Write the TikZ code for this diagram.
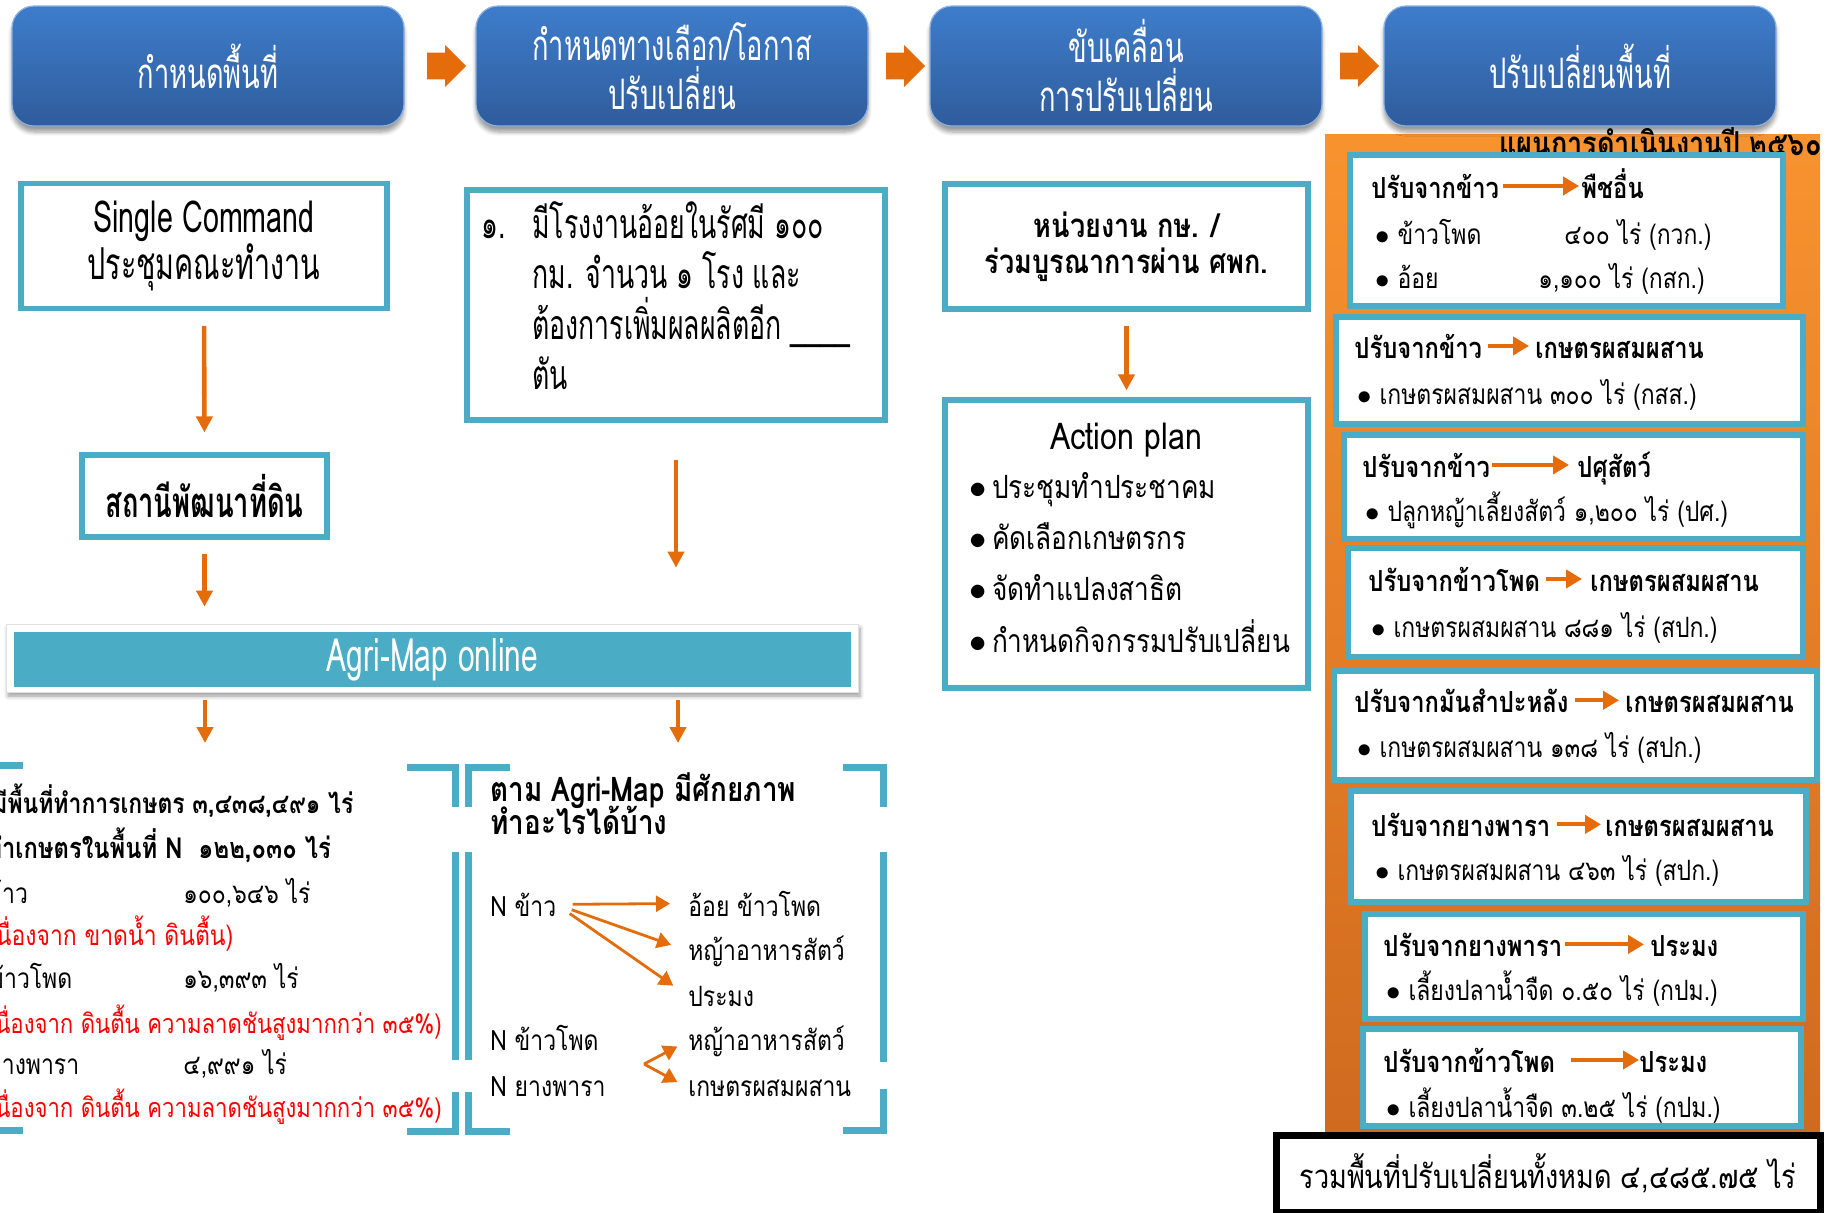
\documentclass[tikz,border=0pt]{standalone}
\usepackage{fontspec}
\setmainfont{Loma}[Script=Thai,FakeStretch=0.82]
\newfontfamily\condfont{Loma}[Script=Thai,FakeStretch=0.65]
\usetikzlibrary{%
  arrows.meta,%
  shapes.arrows,% wg. single arrow
  shadows.blur,%
  calc,%
  positioning% wg. " of "
}
\definecolor{hdrtop}{HTML}{3E7DCB}
\definecolor{hdrbot}{HTML}{2F5C9C}
\definecolor{tealb}{HTML}{4BACC6}
\definecolor{orng}{HTML}{E46C0A}
\definecolor{pnltop}{HTML}{F7932F}
\definecolor{pnlbot}{HTML}{D06A1F}
\definecolor{redtxt}{HTML}{FF0000}

\begin{document}
\begin{tikzpicture}
  [
  x=0.5pt, y=-0.5pt, font=\fontsize{14}{17}\selectfont,
  >={Triangle[length=8pt,width=8pt]},
  hdr/.style={rectangle, rounded corners=11pt, minimum width=196pt, minimum height=60pt,
    top color=hdrtop, bottom color=hdrbot, draw=hdrtop!60!white, line width=0.6pt,
    blur shadow={shadow xshift=0pt, shadow yshift=-3pt, shadow blur steps=6},
    text=white, align=center, font=\condfont\fontsize{21}{24.5}\selectfont},
  blockarr/.style={single arrow, fill=orng, inner xsep=0pt, inner ysep=6.5pt,
    minimum height=19.5pt, single arrow head extend=3.8pt},
  tealbox/.style={rectangle, draw=tealb, line width=2.6pt, fill=white, inner sep=0pt},
  flow/.style={->, draw=orng, line width=2.3pt},
  fan/.style={-{Triangle[length=7pt,width=8pt]}, draw=orng, line width=1.4pt},
  conv/.style={-{Triangle[length=8pt,width=9pt]}, draw=orng, line width=2pt},
  brk/.style={draw=tealb, line width=3.5pt, line join=miter},
  ttl/.style={anchor=base west, inner sep=0pt, font=\bfseries\fontsize{14.5}{17}\selectfont},
  itm/.style={anchor=base west, inner sep=0pt},
  cnd/.style={anchor=base west, inner sep=0pt, font=\condfont\fontsize{20.5}{24}\selectfont},
  ]
  \useasboundingbox (0,0) rectangle (1830,1212);

  % right panel background
  \shade[top color=pnltop, bottom color=pnlbot] (1325,134) rectangle (1820,1132);
  \node[anchor=base east, inner sep=0pt, font=\bfseries\fontsize{16.5}{19}\selectfont] (plantitle) at (1822,155) {แผนการดำเนินงานปี ๒๕๖๐};

  \node[hdr] (h1) at (208,66) {กำหนดพื้นที่};
  \node[hdr] (h2) at (672,66) {กำหนดทางเลือก/โอกาส\\ปรับเปลี่ยน};
  \node[hdr] (h3) at (1126,66) {ขับเคลื่อน\\การปรับเปลี่ยน};
  \node[hdr] (h4) at (1580,66) {ปรับเปลี่ยนพื้นที่};
  \node[blockarr] (a12) at ($(h1.east)!0.5!(h2.west)$) {};
  \node[blockarr] (a23) at ($(h2.east)!0.5!(h3.west)$) {};
  \node[blockarr] (a34) at ($(h3.east)!0.5!(h4.west)$) {};

  % column 1
  \node[tealbox, minimum width=183pt, minimum height=62.5pt, align=center,
    font=\condfont\fontsize{22}{19}\selectfont] (cmd) at (204,246) {Single Command\\ประชุมคณะทำงาน};
  \node[tealbox, minimum width=122.5pt, minimum height=41pt,
    font=\condfont\bfseries\fontsize{21}{24}\selectfont] (ldd) at (204.5,496) {สถานีพัฒนาที่ดิน};
  \draw[flow, shorten <=7.5pt, shorten >=10pt] (cmd.south) -- (ldd.north);

  \node[rectangle, fill=white, draw=black!12, minimum width=426pt, minimum height=34pt,
    blur shadow={shadow xshift=1pt, shadow yshift=-2pt, shadow blur steps=5}] (barbg) at (432,658) {};
  \node[rectangle, fill=tealb, minimum width=418.5pt, minimum height=25.5pt, text=white,
    font=\condfont\fontsize{23}{26}\selectfont] (bar) at (432.5,659.5) {Agri-Map online};
  \draw[flow, shorten <=7pt, shorten >=8.5pt] (ldd.south) -- (ldd.south |- barbg.north);

  % column 2
  \node[tealbox, minimum width=209pt, minimum height=115pt] (opp) at (676,305) {};
  \node[cnd] (opp0) at (481,238) {๑.};
  \node[cnd] (opp1) at (532,238) {มีโรงงานอ้อยในรัศมี ๑๐๐};
  \node[cnd] (opp2) at (532,288) {กม. จำนวน ๑ โรง และ};
  \node[cnd] (opp3) at (532,339) {ต้องการเพิ่มผลผลิตอีก \_\_\_\_};
  \node[cnd] (opp4) at (532,389) {ตัน};
  \draw[flow, shorten <=18.5pt, shorten >=28pt] (opp.south) -- (opp.south |- barbg.north);

  % column 3
  \node[tealbox, minimum width=181.5pt, minimum height=62.5pt, align=center,
    font=\bfseries\fontsize{16.5}{18}\selectfont] (unit) at (1126.5,246.5) {หน่วยงาน กษ. /\\ร่วมบูรณาการผ่าน ศพก.};
  \node[tealbox, minimum width=181.5pt, minimum height=144pt] (plan) at (1126.5,544) {};
  \draw[flow, shorten <=7pt, shorten >=3.5pt] (unit.south) -- (plan.north);
  \node[font=\fontsize{18.5}{21}\selectfont] (plan0) at (1126,440) {Action plan};
  \node[itm, font=\fontsize{16}{19}\selectfont] (plan1) at (969,498) {$\bullet$\,ประชุมทำประชาคม};
  \node[itm, font=\fontsize{16}{19}\selectfont] (plan2) at (969,549) {$\bullet$\,คัดเลือกเกษตรกร};
  \node[itm, font=\fontsize{16}{19}\selectfont] (plan3) at (969,600) {$\bullet$\,จัดทำแปลงสาธิต};
  \node[itm, font=\fontsize{16}{19}\selectfont] (plan4) at (969,652) {$\bullet$\,กำหนดกิจกรรมปรับเปลี่ยน};

  % lower panels
  \coordinate (lp) at (205,765);
  \coordinate (mp) at (678,765);
  \draw[flow, shorten <=4pt, shorten >=11pt] (barbg.south -| lp) -- (lp);
  \draw[flow, shorten <=4pt, shorten >=11pt] (barbg.south -| mp) -- (mp);

  \draw[brk] (0,765) -- (23,765);
  \draw[brk] (0,1130) -- (23,1130);
  \draw[brk] (407,767) -| (455,807);
  \draw[brk] (455,852) -- (455,1060);
  \draw[brk] (455,1092) |- (407,1131);
  \draw[brk] (510,767) -| (468,807);
  \draw[brk] (468,852) -- (468,1060);
  \draw[brk] (468,1092) |- (510,1131);
  \draw[brk] (843,767) -| (883,807);
  \draw[brk] (883,852) -- (883,1062);
  \draw[brk] (883,1089) |- (843,1130);

  \node[itm, font=\bfseries\fontsize{14}{17}\selectfont] (l1) at (-8,813) {มีพื้นที่ทำการเกษตร ๓,๔๓๘,๔๙๑ ไร่};
  \node[itm, font=\bfseries\fontsize{14.5}{17}\selectfont] (l2) at (-14,858) {ทำเกษตรในพื้นที่ N\ \ ๑๒๒,๐๓๐ ไร่};
  \node[itm] (l3) at (-14,903) {ข้าว};
  \node[itm] (l3n) at (183,903) {๑๐๐,๖๔๖ ไร่};
  \node[itm, text=redtxt] (l4) at (-20,945) {(เนื่องจาก ขาดน้ำ ดินตื้น)};
  \node[itm] (l5) at (-12,988) {ข้าวโพด};
  \node[itm] (l5n) at (183,988) {๑๖,๓๙๓ ไร่};
  \node[itm, text=redtxt, font=\fontsize{13.5}{16}\selectfont] (l6) at (-20,1033) {(เนื่องจาก ดินตื้น ความลาดชันสูงมากกว่า ๓๕\%)};
  \node[itm] (l7) at (-12,1074) {ยางพารา};
  \node[itm] (l7n) at (183,1074) {๔,๙๙๑ ไร่};
  \node[itm, text=redtxt, font=\fontsize{13.5}{16}\selectfont] (l8) at (-20,1117) {(เนื่องจาก ดินตื้น ความลาดชันสูงมากกว่า ๓๕\%)};

  \node[ttl, font=\bfseries\fontsize{17}{20}\selectfont] (mt1) at (490,801) {ตาม Agri-Map มีศักยภาพ};
  \node[ttl, font=\bfseries\fontsize{17}{20}\selectfont] (mt2) at (490,834) {ทำอะไรได้บ้าง};
  \node[itm] (nk) at (490,916) {N ข้าว};
  \node[itm] (t1) at (688,916) {อ้อย ข้าวโพด};
  \node[itm] (t2) at (688,960) {หญ้าอาหารสัตว์};
  \node[itm] (t3) at (688,1006) {ประมง};
  \draw[fan, shorten <=8pt, shorten >=9pt] (nk.east) -- (t1.west);
  \draw[fan, shorten <=8pt, shorten >=9pt] (nk.east) -- (t2.west);
  \draw[fan, shorten <=8pt, shorten >=9pt] (nk.east) -- (t3.west);
  \node[itm] (nc) at (490,1050) {N ข้าวโพด};
  \node[itm] (nr) at (490,1096) {N ยางพารา};
  \node[itm] (t4) at (688,1050) {หญ้าอาหารสัตว์};
  \node[itm] (t5) at (688,1096) {เกษตรผสมผสาน};
  \coordinate (fork) at (644,1064);
  \draw[fan, shorten >=6pt] (fork) -- (t4.west);
  \draw[fan, shorten >=6pt] (fork) -- (t5.west);

  % right panel boxes
  \node[tealbox, minimum width=216.5pt, minimum height=75.5pt] (r1) at (1566.5,230.5) {};
  \node[tealbox, minimum width=233.5pt, minimum height=53.5pt] (r2) at (1569.5,370.5) {};
  \node[tealbox, minimum width=229.5pt, minimum height=52pt] (r3) at (1573.5,487) {};
  \node[tealbox, minimum width=227.5pt, minimum height=54.5pt] (r4) at (1575.5,602.5) {};
  \node[tealbox, minimum width=241.5pt, minimum height=54.5pt] (r5) at (1575.5,725.5) {};
  \node[tealbox, minimum width=227.5pt, minimum height=55.5pt] (r6) at (1578.5,846.5) {};
  \node[tealbox, minimum width=219pt, minimum height=52.5pt] (r7) at (1584,966.5) {};
  \node[tealbox, minimum width=219pt, minimum height=48.5pt] (r8) at (1582,1077.5) {};

  \node[ttl] (r1a) at (1371,198) {ปรับจากข้าว};
  \node[ttl] (r1b) at (1581,198) {พืชอื่น};
  \draw[conv, shorten <=2pt, shorten >=1pt] (r1a.east) -- (r1a.east -| r1b.west);
  \node[itm] (r1c) at (1375,244) {$\bullet$\ ข้าวโพด};
  \node[itm] (r1d) at (1564,244) {๔๐๐ ไร่ (กวก.)};
  \node[itm] (r1e) at (1375,288) {$\bullet$\ อ้อย};
  \node[itm] (r1f) at (1538,288) {๑,๑๐๐ ไร่ (กสก.)};

  \node[ttl] (r2a) at (1354,358) {ปรับจากข้าว};
  \node[ttl] (r2b) at (1535,358) {เกษตรผสมผสาน};
  \draw[conv, shorten <=3pt, shorten >=3pt] (r2a.east) -- (r2a.east -| r2b.west);
  \node[itm] (r2c) at (1357,404) {$\bullet$\ เกษตรผสมผสาน ๓๐๐ ไร่ (กสส.)};

  \node[ttl] (r3a) at (1362,477) {ปรับจากข้าว};
  \node[ttl] (r3b) at (1577,477) {ปศุสัตว์};
  \draw[conv, shorten <=1pt, shorten >=4pt] (r3a.east) -- (r3a.east -| r3b.west);
  \node[itm] (r3c) at (1365,521) {$\bullet$\ ปลูกหญ้าเลี้ยงสัตว์ ๑,๒๐๐ ไร่ (ปศ.)};

  \node[ttl] (r4a) at (1368,591) {ปรับจากข้าวโพด};
  \node[ttl] (r4b) at (1590,591) {เกษตรผสมผสาน};
  \draw[conv, shorten <=3pt, shorten >=4pt] (r4a.east) -- (r4a.east -| r4b.west);
  \node[itm] (r4c) at (1371,637) {$\bullet$\ เกษตรผสมผสาน ๘๘๑ ไร่ (สปก.)};

  \node[ttl] (r5a) at (1354,712) {ปรับจากมันสำปะหลัง};
  \node[ttl] (r5b) at (1625,712) {เกษตรผสมผสาน};
  \draw[conv, shorten <=3pt, shorten >=3pt] (r5a.east) -- (r5a.east -| r5b.west);
  \node[itm] (r5c) at (1357,757) {$\bullet$\ เกษตรผสมผสาน ๑๓๘ ไร่ (สปก.)};

  \node[ttl] (r6a) at (1371,836) {ปรับจากยางพารา};
  \node[ttl] (r6b) at (1605,836) {เกษตรผสมผสาน};
  \draw[conv, shorten <=3pt, shorten >=2pt] (r6a.east) -- (r6a.east -| r6b.west);
  \node[itm] (r6c) at (1375,880) {$\bullet$\ เกษตรผสมผสาน ๔๖๓ ไร่ (สปก.)};

  \node[ttl] (r7a) at (1383,956) {ปรับจากยางพารา};
  \node[ttl] (r7b) at (1650,956) {ประมง};
  \draw[conv, shorten <=1pt, shorten >=3pt] (r7a.east) -- (r7a.east -| r7b.west);
  \node[itm] (r7c) at (1386,1000) {$\bullet$\ เลี้ยงปลาน้ำจืด ๐.๕๐ ไร่ (กปม.)};

  \node[ttl] (r8a) at (1383,1072) {ปรับจากข้าวโพด};
  \node[ttl] (r8b) at (1639,1072) {ประมง};
  \draw[conv, shorten <=8pt, shorten >=0pt] (r8a.east) -- (r8a.east -| r8b.west);
  \node[itm] (r8c) at (1386,1117) {$\bullet$\ เลี้ยงปลาน้ำจืด ๓.๒๕ ไร่ (กปม.)};

  \node[rectangle, draw=black, line width=3.5pt, fill=white, minimum width=272pt,
    minimum height=38.5pt, font=\fontsize{16.5}{19}\selectfont] (total) at (1548,1173.5) {รวมพื้นที่ปรับเปลี่ยนทั้งหมด ๔,๔๘๕.๗๕ ไร่};
\end{tikzpicture}
\end{document}
